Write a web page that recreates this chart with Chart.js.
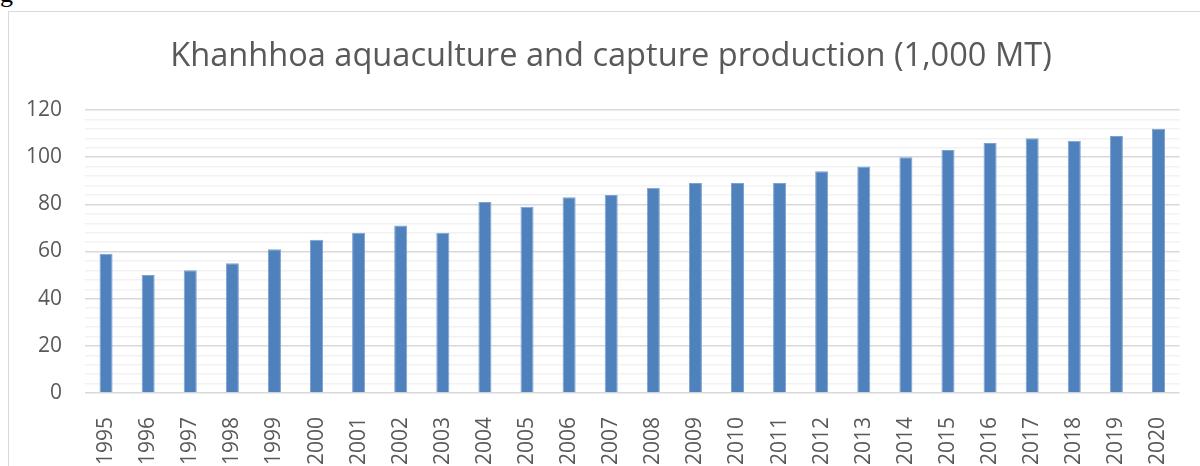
<!DOCTYPE html>
<html>
<head>
<meta charset="utf-8">
<script src="https://cdn.jsdelivr.net/npm/chart.js@4"></script>
<style>
  html, body { margin: 0; padding: 0; background: #fff; overflow: hidden; }
  #wrap { position: relative; width: 1200px; height: 466px; }
  #frame { position: absolute; left: 8px; top: 11px; width: 1200px; height: 470px; border: 1px solid #d9d9d9; box-sizing: border-box; }
  #doc { position: absolute; left: 0px; top: -19px; font-family: "Liberation Serif", serif; font-size: 26px; color: #000; line-height: 1; }
  canvas { position: absolute; left: 0; top: 0; }
</style>
</head>
<body>
<div id="wrap">
  <div id="doc">g</div>
  <div id="frame"></div>
  <canvas id="c" width="1200" height="466"></canvas>
</div>
<script>
const chartTitle = "Khanhhoa aquaculture and capture production (1,000 MT)";
const years = ["1995","1996","1997","1998","1999","2000","2001","2002","2003","2004","2005","2006","2007","2008","2009","2010","2011","2012","2013","2014","2015","2016","2017","2018","2019","2020"];
const production = [59, 50, 52, 55, 61, 65, 68, 71, 68, 81, 79, 83, 84, 87, 89, 89, 89, 94, 96, 100, 103, 106, 108, 107, 109, 112];
const yMin = 0, yMax = 120, yMinorStep = 4, yMajorStep = 20;

const PLOT_LEFT = 85, PLOT_RIGHT = 1183, PLOT_TOP = 110, PLOT_BOTTOM = 393;
const textColor = "#595959";

const titlePlugin = {
  id: "titleText",
  afterDraw(chart) {
    const ctx = chart.ctx;
    ctx.save();
    ctx.font = "32.6px 'Open Sans'";
    ctx.fillStyle = textColor;
    ctx.textAlign = "center";
    ctx.textBaseline = "middle";
    ctx.fillText(chartTitle, 611, 57);
    ctx.restore();
  }
};

new Chart(document.getElementById("c"), {
  type: "bar",
  data: {
    labels: years,
    datasets: [{
      data: production,
      backgroundColor: "#4f81bd",
      borderColor: "#7da2d1",
      borderWidth: 1,
      barPercentage: 0.31,
      categoryPercentage: 1.0
    }]
  },
  options: {
    responsive: false,
    animation: false,
    devicePixelRatio: 1,
    layout: { padding: { left: 0, right: 1200 - PLOT_RIGHT, top: PLOT_TOP, bottom: 0 } },
    plugins: { legend: { display: false }, title: { display: false }, tooltip: { enabled: false } },
    scales: {
      x: {
        grid: { display: false },
        border: { display: false },
        ticks: {
          color: textColor,
          font: { family: "'Open Sans'", size: 21 },
          minRotation: 90, maxRotation: 90,
          autoSkip: false,
          padding: 16
        },
        afterFit(scale) { scale.height = 466 - PLOT_BOTTOM; }
      },
      y: {
        min: yMin, max: yMax,
        border: { display: false },
        grid: {
          drawTicks: false,
          color: (c) => (c.tick && c.tick.value % yMajorStep === 0) ? "#d9d9d9" : "#f2f2f2",
          lineWidth: (c) => (c.tick && c.tick.value % yMajorStep === 0) ? 1.6 : 1.4
        },
        ticks: {
          stepSize: yMinorStep,
          autoSkip: false,
          color: textColor,
          font: { family: "'Open Sans'", size: 21 },
          padding: 23,
          callback: (v) => (v % yMajorStep === 0) ? String(v) : ""
        },
        afterFit(scale) { scale.width = PLOT_LEFT; }
      }
    }
  },
  plugins: [titlePlugin]
});
</script>
</body>
</html>
